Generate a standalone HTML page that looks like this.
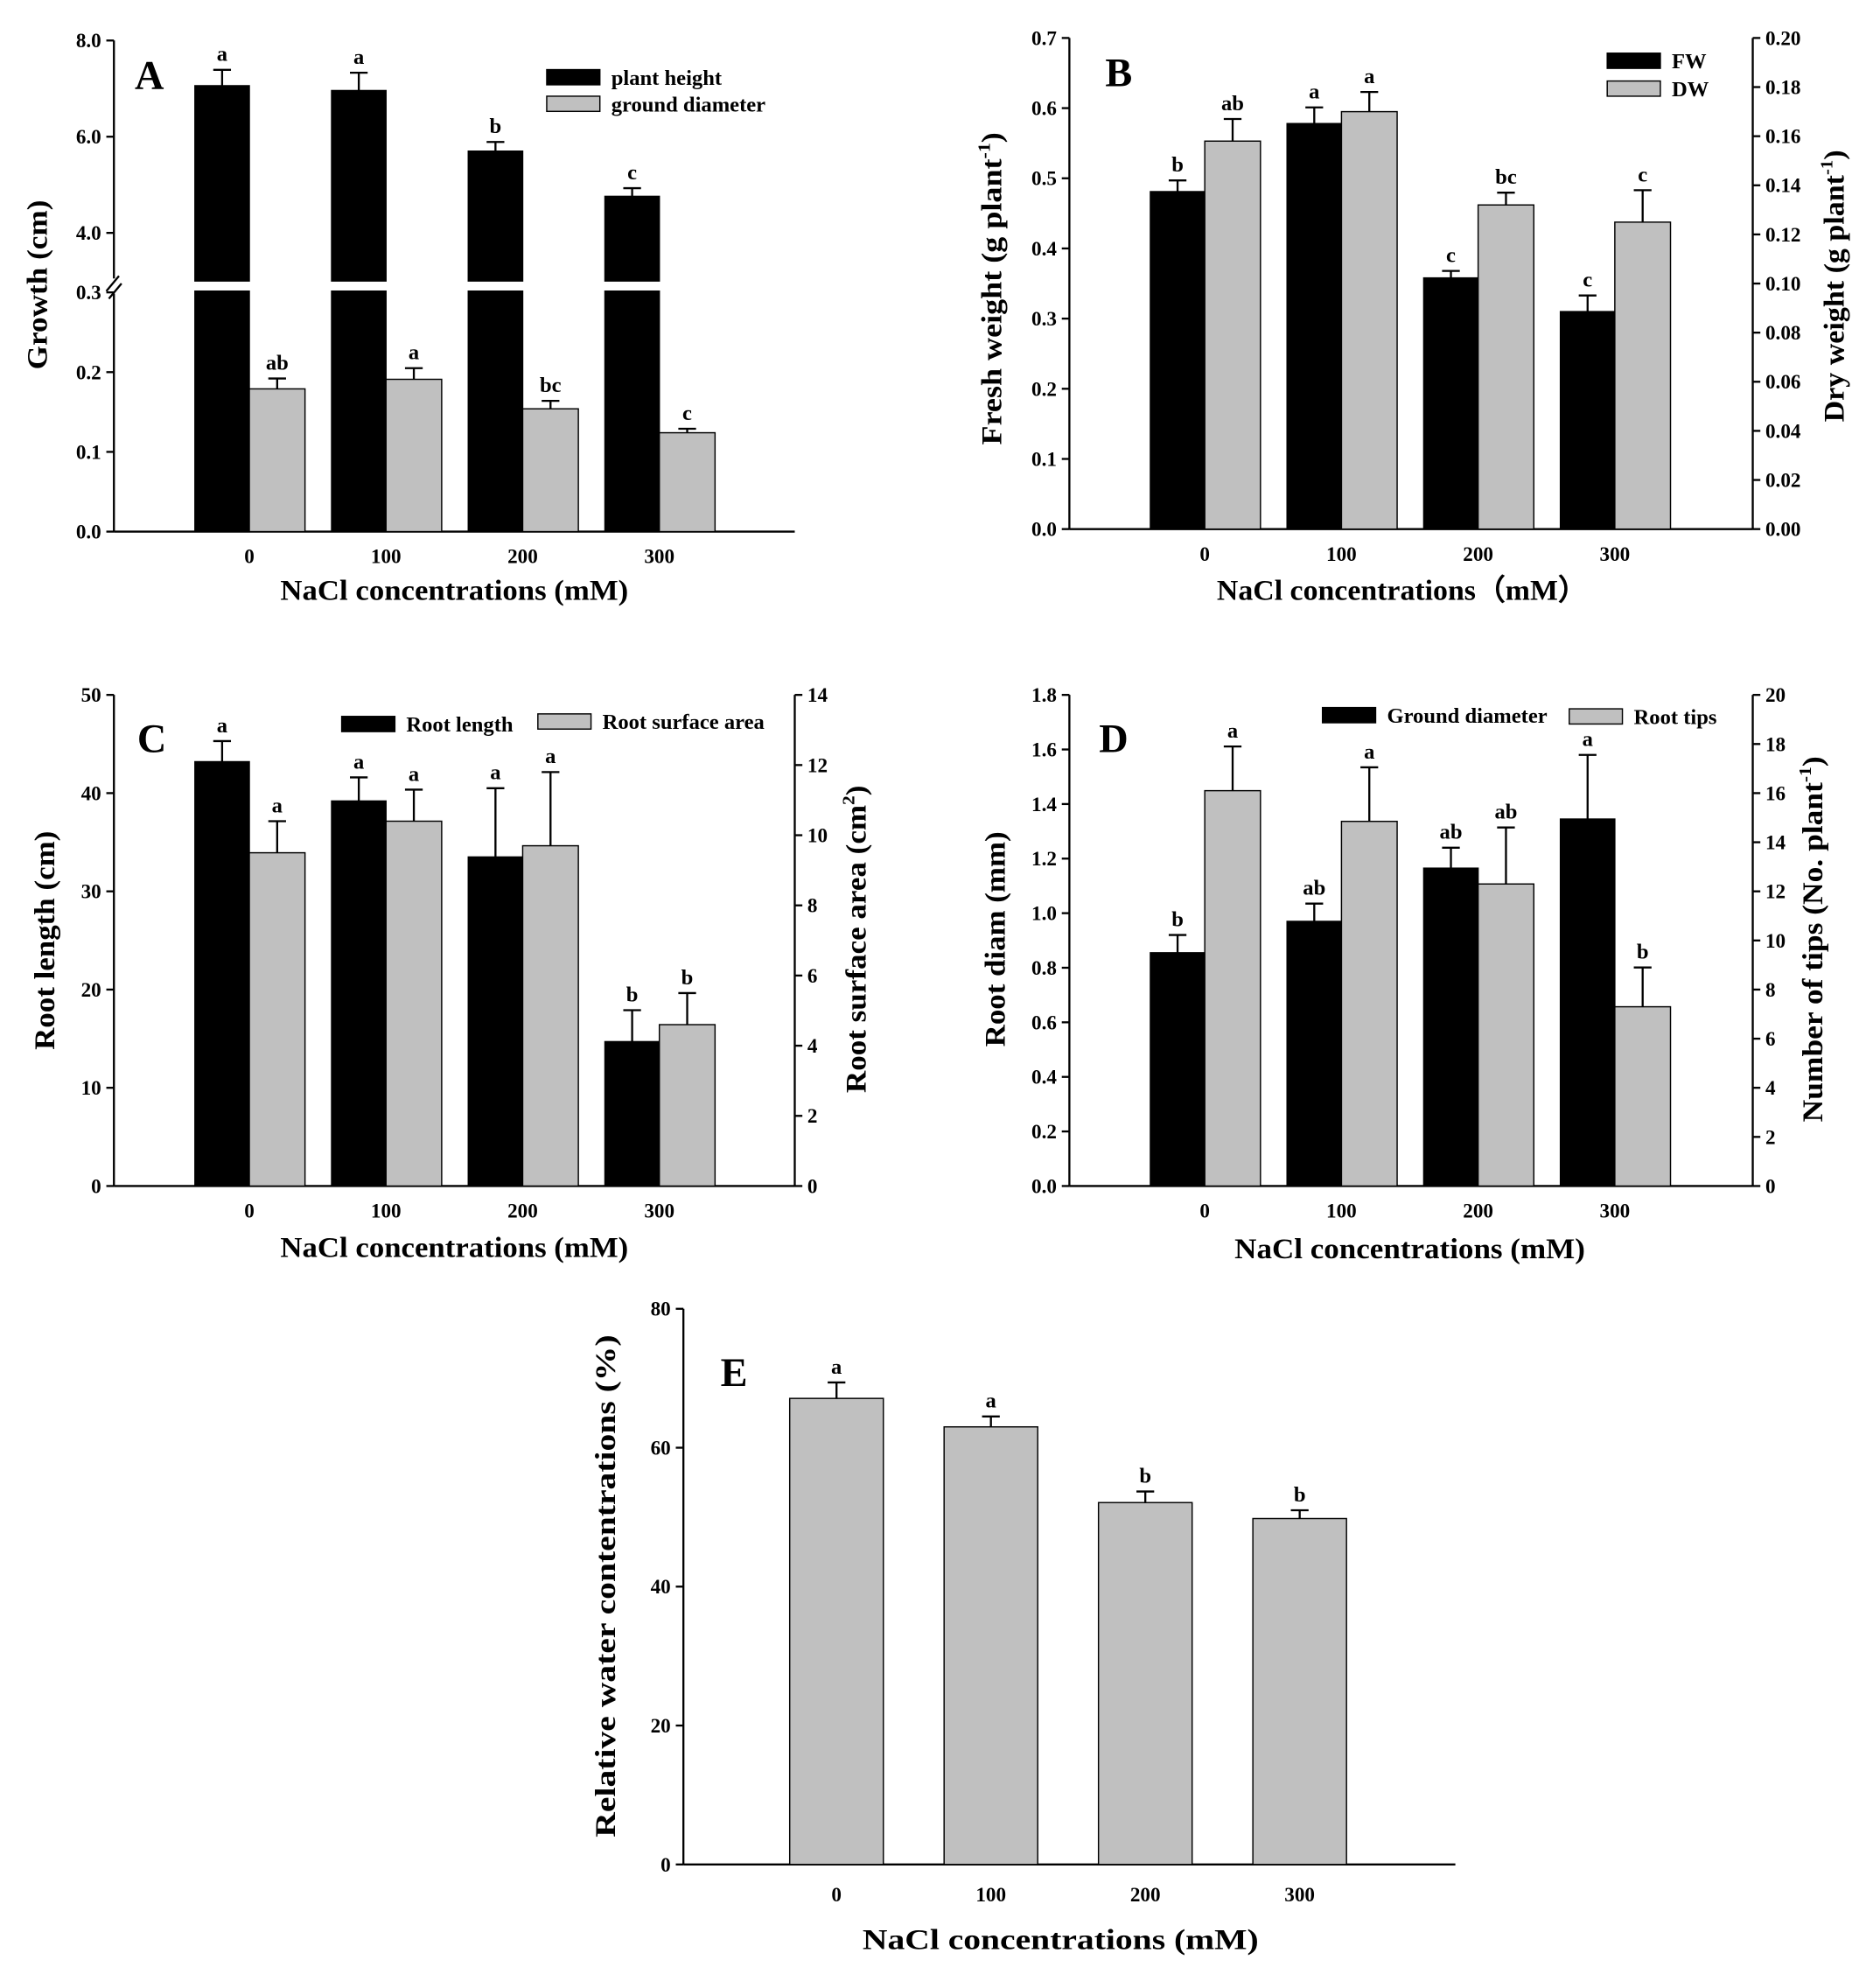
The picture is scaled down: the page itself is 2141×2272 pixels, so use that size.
<!DOCTYPE html>
<html><head><meta charset="utf-8"><style>
html,body{margin:0;padding:0;background:#fff}
svg{display:block}
text{font-family:"Liberation Serif",serif;font-weight:bold;fill:#000}
</style></head><body>
<svg id="fig" width="2141" height="2272" viewBox="0 0 1480 1570.6" xmlns="http://www.w3.org/2000/svg"></svg>
<script>
const categories = ["0","100","200","300"];
// Panel A
const aHeight = [7.06, 6.96, 5.70, 4.76];
const aHeightErr = [0.33, 0.37, 0.19, 0.17];
const aHeightLet = ["a","a","b","c"];
const aDiam = [0.179, 0.191, 0.154, 0.124];
const aDiamErr = [0.013, 0.014, 0.010, 0.005];
const aDiamLet = ["ab","a","bc","c"];
// Panel B
const bFW = [0.481, 0.578, 0.358, 0.310];
const bFWErr = [0.016, 0.023, 0.010, 0.023];
const bFWLet = ["b","a","c","c"];
const bDW = [0.158, 0.170, 0.132, 0.125];
const bDWErr = [0.009, 0.008, 0.005, 0.013];
const bDWLet = ["ab","a","bc","c"];
// Panel C
const cLen = [43.2, 39.2, 33.5, 14.7];
const cLenErr = [2.1, 2.4, 7.0, 3.2];
const cLenLet = ["a","a","a","b"];
const cArea = [9.5, 10.4, 9.7, 4.6];
const cAreaErr = [0.9, 0.9, 2.1, 0.9];
const cAreaLet = ["a","a","a","b"];
// Panel D
const dDiam = [0.855, 0.97, 1.165, 1.345];
const dDiamErr = [0.065, 0.065, 0.075, 0.235];
const dDiamLet = ["b","ab","ab","a"];
const dTips = [16.1, 14.85, 12.3, 7.3];
const dTipsErr = [1.8, 2.2, 2.3, 1.6];
const dTipsLet = ["a","a","ab","b"];
// Panel E
const eRWC = [67.1, 63.0, 52.1, 49.8];
const eRWCErr = [2.3, 1.5, 1.6, 1.2];
const eRWCLet = ["a","a","b","b"];
const yTicksA_up = [4.0, 6.0, 8.0];
const yTicksA_low = [0.0, 0.1, 0.2, 0.3];
const yTicksB = [0,0.1,0.2,0.3,0.4,0.5,0.6,0.7];
const yTicksB2 = [0,0.02,0.04,0.06,0.08,0.10,0.12,0.14,0.16,0.18,0.20];
const yTicksC = [0,10,20,30,40,50];
const yTicksC2 = [0,2,4,6,8,10,12,14];
const yTicksD = [0,0.2,0.4,0.6,0.8,1.0,1.2,1.4,1.6,1.8];
const yTicksD2 = [0,2,4,6,8,10,12,14,16,18,20];
const yTicksE = [0,20,40,60,80];

const NS = "http://www.w3.org/2000/svg";
const svg = document.getElementById("fig");
function el(tag, attrs, parent, txt) {
  const e = document.createElementNS(NS, tag);
  for (const k in attrs) e.setAttribute(k, attrs[k]);
  if (txt !== undefined) e.textContent = txt;
  (parent || svg).appendChild(e);
  return e;
}
function line(x1,y1,x2,y2,g,name){
  const l = el("line",{x1,y1,x2,y2,stroke:"#000","stroke-width":1.6},g);
  
  
  return l;
}
function txt(x,y,s,size,anchor,g,name,extra){
  const t = el("text",Object.assign({x,y,"font-size":size,"text-anchor":anchor||"middle"},extra||{}),g,s);
  
  
  return t;
}
function group(name){
  const g = el("g",{});
  
  
  return g;
}
function yAxis(g,x,ticks,scale,fmt,side){
  ticks.forEach(v=>{
    const y = scale(v);
    if(side==="right"){ line(x,y,x+6,y,g,'y-tick'); txt(x+10,y+5.5,fmt(v),16,"start",g,'y-tick-label'); }
    else { line(x-6,y,x,y,g,'y-tick'); txt(x-10,y+5.5,fmt(v),16,"end",g,'y-tick-label'); }
  });
}
function bar(g,x,w,yTop,yBot,fill,name){
  const r = el("rect",{x,y:yTop,width:w,height:yBot-yTop,fill,stroke:"#000","stroke-width":1},g);
  
  
}
function errBar(g,cx,yTop,yErr,letter){
  line(cx,yTop,cx,yErr,g,'error-bar');
  line(cx-7,yErr,cx+7,yErr,g,'error-cap');
  txt(cx,yErr-7,letter,17,"middle",g,'significance-letter');
}
function xLabels(g,centers,y){
  categories.forEach((c,i)=>txt(centers[i],y,c,16,"middle",g,'x-tick-label'));
}
function xTitle(g,x,y,s,len,extra){
  const t = txt(x,y,s,23,"middle",g,'x-axis-title',Object.assign({textLength:len,lengthAdjust:"spacingAndGlyphs"},extra||{}));
  return t;
}
function rotTitle(g,x,y,parts,name,len){
  const t = el("text",{x:0,y:0,"font-size":23,"text-anchor":"middle",textLength:len,lengthAdjust:"spacingAndGlyphs",transform:`translate(${x},${y}) rotate(-90)`},g);
  
  
  parts.forEach(p=>{
    el("tspan",p.sup?{"font-size":14,dy:-9}:(p.after?{dy:9}:{}),t,p.t);
  });
}
function legend(g,x,y,fill,label,name){
  const r = el("rect",{x,y,width:42,height:12,fill,stroke:"#000","stroke-width":1},g);
  
  
  txt(x+51,y+12,label,17,"start",g,name+'-label');
}
const f1 = v=>v.toFixed(1), f2 = v=>v.toFixed(2), f0 = v=>String(v);

// ===== Panel A =====
(function(){
  const g = group('panel-a');
  const x0=90, x1=628, base=420;
  const yUp = v=>184-(v-4)*38;
  const yLow = v=>base-v*630;
  const centers = [197,305,413,521];
  line(x0,32,x0,220,g,'y-axis-upper');
  line(x0,232,x0,base,g,'y-axis-lower');
  line(x0,base,x1,base,g,'x-axis');
  line(x0-6,230,x0+4,218,g,'axis-break');
  line(x0-4,236,x0+6,224,g,'axis-break');
  yAxis(g,x0,yTicksA_up,yUp,f1);
  yAxis(g,x0,yTicksA_low,yLow,f1);
  categories.forEach((c,i)=>{
    const cx=centers[i];
    bar(g,cx-43,43,yUp(aHeight[i]),222,"#000",'bar-plant-height-upper');
    bar(g,cx-43,43,230,base,"#000",'bar-plant-height-lower');
    errBar(g,cx-21.5,yUp(aHeight[i]),yUp(aHeight[i]+aHeightErr[i]),aHeightLet[i]);
    bar(g,cx,44,yLow(aDiam[i]),base,"#c0c0c0",'bar-ground-diameter');
    errBar(g,cx+22,yLow(aDiam[i]),yLow(aDiam[i]+aDiamErr[i]),aDiamLet[i]);
  });
  xLabels(g,centers,445);
  xTitle(g,359,474,"NaCl concentrations (mM)",275);
  rotTitle(g,37,225,[{t:"Growth (cm)"}],'y-axis-title',134);
  txt(118,70,"A",32,"middle",g,'panel-letter');
  legend(g,432,55,"#000","plant height",'legend-plant-height');
  legend(g,432,76,"#c0c0c0","ground diameter",'legend-ground-diameter');
})();

// ===== Panel B =====
(function(){
  const g = group('panel-b');
  const x0=845, x1=1385, base=418, top=30;
  const yL = v=>base-v/0.7*(base-top);
  const yR = v=>base-v/0.2*(base-top);
  const centers = [952,1060,1168,1276];
  line(x0,top,x0,base,g,'y-axis-left');
  line(x1,top,x1,base,g,'y-axis-right');
  line(x0,base,x1,base,g,'x-axis');
  yAxis(g,x0,yTicksB,yL,f1);
  yAxis(g,x1,yTicksB2,yR,f2,"right");
  categories.forEach((c,i)=>{
    const cx=centers[i];
    bar(g,cx-43,43,yL(bFW[i]),base,"#000",'bar-fw');
    errBar(g,cx-21.5,yL(bFW[i]),yL(bFW[i]+bFWErr[i]),bFWLet[i]);
    bar(g,cx,44,yR(bDW[i]),base,"#c0c0c0",'bar-dw');
    errBar(g,cx+22,yR(bDW[i]),yR(bDW[i]+bDWErr[i]),bDWLet[i]);
  });
  xLabels(g,centers,443);
  xTitle(g,1108,474,"NaCl concentrations（mM）",293,{"font-family":"Liberation Serif, Noto Serif CJK SC, serif"});
  rotTitle(g,791,228,[{t:"Fresh weight (g plant"},{t:"-1",sup:true},{t:")",after:true}],'y-axis-left-title',247);
  rotTitle(g,1457,226,[{t:"Dry weight (g plant"},{t:"-1",sup:true},{t:")",after:true}],'y-axis-right-title',215);
  txt(884,68,"B",32,"middle",g,'panel-letter');
  legend(g,1270,42,"#000","FW",'legend-fw');
  legend(g,1270,64,"#c0c0c0","DW",'legend-dw');
})();

// ===== Panel C =====
(function(){
  const g = group('panel-c');
  const x0=90, x1=628, base=937, top=549;
  const yL = v=>base-v/50*(base-top);
  const yR = v=>base-v/14*(base-top);
  const centers = [197,305,413,521];
  line(x0,top,x0,base,g,'y-axis-left');
  line(x1,top,x1,base,g,'y-axis-right');
  line(x0,base,x1,base,g,'x-axis');
  yAxis(g,x0,yTicksC,yL,f0);
  yAxis(g,x1,yTicksC2,yR,f0,"right");
  categories.forEach((c,i)=>{
    const cx=centers[i];
    bar(g,cx-43,43,yL(cLen[i]),base,"#000",'bar-root-length');
    errBar(g,cx-21.5,yL(cLen[i]),yL(cLen[i]+cLenErr[i]),cLenLet[i]);
    bar(g,cx,44,yR(cArea[i]),base,"#c0c0c0",'bar-root-surface-area');
    errBar(g,cx+22,yR(cArea[i]),yR(cArea[i]+cAreaErr[i]),cAreaLet[i]);
  });
  xLabels(g,centers,962);
  xTitle(g,359,993,"NaCl concentrations (mM)",275);
  rotTitle(g,43,743,[{t:"Root length (cm)"}],'y-axis-left-title',173);
  rotTitle(g,684,742,[{t:"Root surface area (cm"},{t:"2",sup:true},{t:")",after:true}],'y-axis-right-title',243);
  txt(120,594,"C",32,"middle",g,'panel-letter');
  legend(g,270,566,"#000","Root length",'legend-root-length');
  legend(g,425,564,"#c0c0c0","Root surface area",'legend-root-surface-area');
})();

// ===== Panel D =====
(function(){
  const g = group('panel-d');
  const x0=845, x1=1385, base=937, top=549;
  const yL = v=>base-v/1.8*(base-top);
  const yR = v=>base-v/20*(base-top);
  const centers = [952,1060,1168,1276];
  line(x0,top,x0,base,g,'y-axis-left');
  line(x1,top,x1,base,g,'y-axis-right');
  line(x0,base,x1,base,g,'x-axis');
  yAxis(g,x0,yTicksD,yL,f1);
  yAxis(g,x1,yTicksD2,yR,f0,"right");
  categories.forEach((c,i)=>{
    const cx=centers[i];
    bar(g,cx-43,43,yL(dDiam[i]),base,"#000",'bar-ground-diameter');
    errBar(g,cx-21.5,yL(dDiam[i]),yL(dDiam[i]+dDiamErr[i]),dDiamLet[i]);
    bar(g,cx,44,yR(dTips[i]),base,"#c0c0c0",'bar-root-tips');
    errBar(g,cx+22,yR(dTips[i]),yR(dTips[i]+dTipsErr[i]),dTipsLet[i]);
  });
  xLabels(g,centers,962);
  xTitle(g,1114,994,"NaCl concentrations (mM)",277);
  rotTitle(g,794,742,[{t:"Root diam (mm)"}],'y-axis-left-title',170);
  rotTitle(g,1440,742,[{t:"Number of tips (No. plant"},{t:"-1",sup:true},{t:")",after:true}],'y-axis-right-title',289);
  txt(880,594,"D",32,"middle",g,'panel-letter');
  legend(g,1045,559,"#000","Ground diameter",'legend-ground-diameter');
  legend(g,1240,560,"#c0c0c0","Root tips",'legend-root-tips');
})();

// ===== Panel E =====
(function(){
  const g = group('panel-e');
  const x0=540, x1=1150, base=1473, top=1034;
  const y = v=>base-v/80*(base-top);
  const centers = [661,783,905,1027];
  line(x0,top,x0,base,g,'y-axis');
  line(x0,base,x1,base,g,'x-axis');
  yAxis(g,x0,yTicksE,y,f0);
  categories.forEach((c,i)=>{
    const cx=centers[i];
    bar(g,cx-37,74,y(eRWC[i]),base,"#c0c0c0",'bar-relative-water');
    errBar(g,cx,y(eRWC[i]),y(eRWC[i]+eRWCErr[i]),eRWCLet[i]);
  });
  xLabels(g,centers,1502);
  xTitle(g,838,1540,"NaCl concentrations (mM)",313);
  rotTitle(g,486,1253,[{t:"Relative water contentrations (%)"}],'y-axis-title',397);
  txt(580,1095,"E",32,"middle",g,'panel-letter');
})();
</script>
</body></html>
